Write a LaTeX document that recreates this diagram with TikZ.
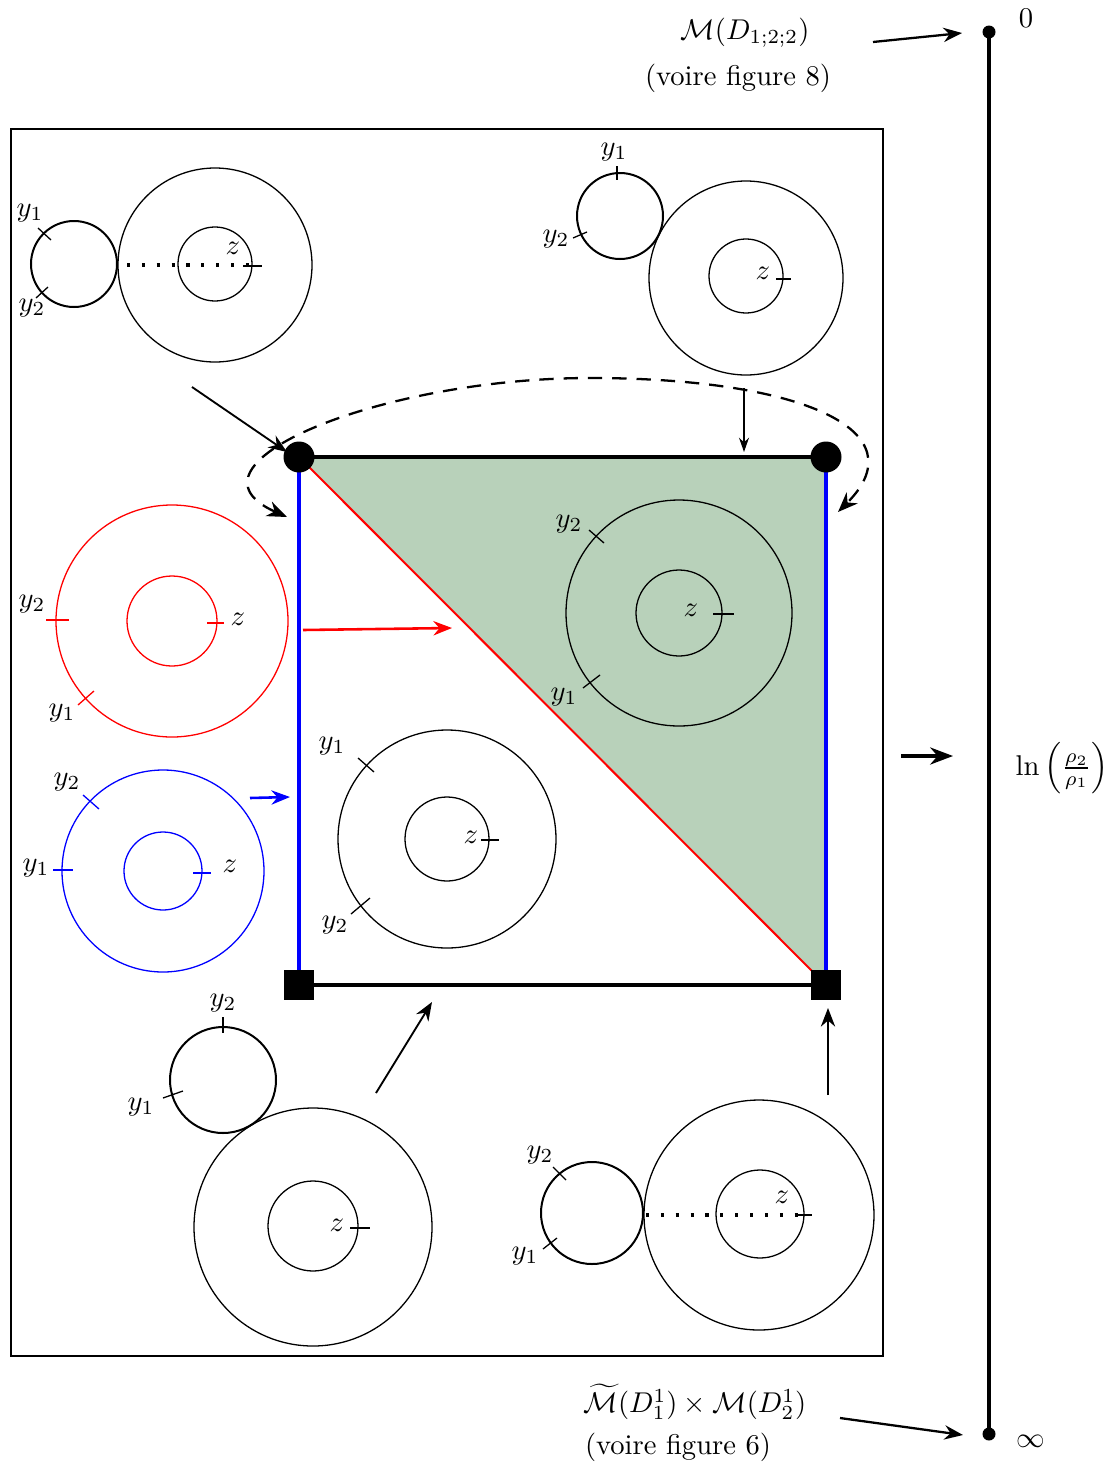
\documentclass[tikz,border=0pt]{standalone}
\usetikzlibrary{arrows.meta}
\definecolor{grn}{RGB}{184,209,186}
\begin{document}
\begin{tikzpicture}[x=0.0123cm,y=-0.0123cm,
  thincirc/.style={line width=0.45pt},
  smallcirc/.style={line width=0.7pt},
  tickline/.style={line width=0.45pt},
  dotline/.style={line width=1.1pt, dash pattern=on 1.1pt off 4.1pt},
  arr/.style={-{Stealth[length=6.5pt,width=5pt]}, line width=0.65pt},
  lab/.style={inner sep=0pt}]
\useasboundingbox (0,0) rectangle (1115,1465);

% outer frame
\node[draw, line width=0.7pt, minimum width=872*0.0123cm, minimum height=1227*0.0123cm, inner sep=0pt, anchor=north west] (frame) at (10,128) {};

% ---------- right scale ----------
\coordinate (top0) at (989,32);
\coordinate (botinf) at (989,1434);
\draw[line width=1.1pt] (top0) -- (botinf);
\fill (top0) circle (6.5);
\fill (botinf) circle (6.5);
\node[lab] (zero) at (1026,18) {$0$};
\node[lab] (infty) at (1031,1441) {$\infty$};
\node[lab] (topM) at (745,33) {$\mathcal{M}(D_{1;2;2})$};
\node[lab] (topV) at (738,78) {(voire figure 8)};
\node[lab] (botM) at (695,1402) {$\widetilde{\mathcal{M}}(D^1_1)\times\mathcal{M}(D^1_2)$};
\node[lab] (botV) at (678,1447) {(voire figure 6)};
\coordinate (a1s) at (873,42); \coordinate (a1e) at (962,33);
\coordinate (a2s) at (840,1418); \coordinate (a2e) at (963,1435);
\draw[arr, line width=0.8pt] (a1s) -- (a1e);
\draw[arr, line width=0.8pt] (a2s) -- (a2e);
\coordinate (a3s) at (901,756); \coordinate (a3e) at (953,756);
\draw[-{Stealth[length=8pt,width=6pt]}, line width=1.1pt] (a3s) -- (a3e);
\node[lab] (lnlab) at (1062,768) {$\ln\left(\frac{\rho_2}{\rho_1}\right)$};

% ---------- square ----------
\coordinate (TL) at (299,457);
\coordinate (TR) at (826,457);
\coordinate (BL) at (299,985);
\coordinate (BR) at (826,985);
\fill[grn] (TL) -- (TR) -- (BR) -- cycle;
\draw[red, line width=0.7pt] (TL) -- (BR);
\draw[blue, line width=1.1pt] (TL) -- (BL);
\draw[blue, line width=1.1pt] (TR) -- (BR);
\draw[line width=1.1pt] (TL) -- (TR);
\draw[line width=1.1pt] (BL) -- (BR);
\fill (TL) circle (15.5);
\fill (TR) circle (15.5);
\fill (284,970) rectangle (314,1000);
\fill (811,970) rectangle (841,1000);

% dashed curve
\coordinate (dL) at (287,517);
\coordinate (dR) at (838,512);
\draw[line width=0.8pt, dash pattern=on 5pt off 3.5pt, {Stealth[length=7pt,width=5.5pt]}-{Stealth[length=7pt,width=5.5pt]}]
  (dL) .. controls (170,465) and (380,378) .. (590,378) .. controls (800,378) and (920,430) .. (dR);

% ---------- arrows from snapshots ----------
\coordinate (s1) at (192,387); \coordinate (e1) at (287,452);
\draw[arr] (s1) -- (e1);
\coordinate (s2) at (744,388); \coordinate (e2) at (744,452);
\draw[-{Stealth[length=5pt,width=3.5pt]}, line width=0.45pt] (s2) -- (e2);
\coordinate (s3) at (303,630); \coordinate (e3) at (452,628);
\draw[arr, red, line width=0.9pt] (s3) -- (e3);
\coordinate (s4) at (250,798); \coordinate (e4) at (290,797);
\draw[arr, blue, line width=0.9pt] (s4) -- (e4);
\coordinate (s5) at (376,1093); \coordinate (e5) at (432,1002);
\draw[arr] (s5) -- (e5);
\coordinate (s6) at (828,1095); \coordinate (e6) at (828,1008);
\draw[arr] (s6) -- (e6);

% ---------- snapshot 1 (top-left) ----------
\draw[smallcirc] (74,264) circle (43);
\draw[thincirc] (215,265) circle (97);
\draw[thincirc] (215,264) circle (37);
\draw[dotline] (127,265) -- (258,265);
\draw[tickline] (38,228) -- (51,240);
\draw[tickline] (36,298) -- (48,287);
\draw[tickline] (243,266) -- (262,266);
\node[lab] (t1y1) at (30,213) {$y_1$};
\node[lab] (t1y2) at (32,308) {$y_2$};
\node[lab] (t1z) at (233,248) {$z$};

% ---------- snapshot 2 (top-right) ----------
\draw[smallcirc] (620,216) circle (43);
\draw[thincirc] (746,278) circle (97);
\draw[thincirc] (746,276) circle (37);
\draw[tickline] (617,166) -- (617,180);
\draw[tickline] (573,238) -- (587,232);
\draw[tickline] (776,279) -- (791,279);
\node[lab] (t2y1) at (614,152) {$y_1$};
\node[lab] (t2y2) at (556,239) {$y_2$};
\node[lab] (t2z) at (763,273) {$z$};

% ---------- red annulus ----------
\begin{scope}[red]
\draw[thincirc] (172,621) circle (116);
\draw[thincirc] (172,621) circle (45);
\draw[tickline] (46,620) -- (69,620);
\draw[tickline] (78,705) -- (94,691);
\draw[tickline] (207,623) -- (224,623);
\end{scope}
\node[lab] (ry2) at (32,604) {$y_2$};
\node[lab] (ry1) at (62,713) {$y_1$};
\node[lab] (rz) at (238,619) {$z$};

% ---------- blue annulus ----------
\begin{scope}[blue]
\draw[thincirc] (163,871) circle (101);
\draw[thincirc] (163,871) circle (39);
\draw[tickline] (83,795) -- (99,809);
\draw[tickline] (53,870) -- (73,870);
\draw[tickline] (193,873) -- (211,873);
\end{scope}
\node[lab] (by2) at (67,782) {$y_2$};
\node[lab] (by1) at (36,868) {$y_1$};
\node[lab] (bz) at (230,866) {$z$};

% ---------- green-region annulus ----------
\draw[thincirc] (679,613) circle (113);
\draw[thincirc] (679,613) circle (43);
\draw[tickline] (589,530) -- (604,543);
\draw[tickline] (583,688) -- (600,675);
\draw[tickline] (713,614) -- (734,614);
\node[lab] (gy2) at (569,524) {$y_2$};
\node[lab] (gy1) at (564,697) {$y_1$};
\node[lab] (gz) at (691,610) {$z$};

% ---------- white-region annulus ----------
\draw[thincirc] (447,839) circle (109);
\draw[thincirc] (447,839) circle (42);
\draw[tickline] (358,758) -- (374,772);
\draw[tickline] (351,914) -- (370,898);
\draw[tickline] (481,840) -- (499,840);
\node[lab] (wy1) at (332,746) {$y_1$};
\node[lab] (wy2) at (335,925) {$y_2$};
\node[lab] (wz) at (471,837) {$z$};

% ---------- snapshot 7 (bottom-left) ----------
\draw[smallcirc] (223,1080) circle (53);
\draw[thincirc] (313,1227) circle (119);
\draw[thincirc] (313,1226) circle (45);
\draw[tickline] (223,1017) -- (223,1033);
\draw[tickline] (163,1098) -- (183,1091);
\draw[tickline] (350,1228) -- (370,1228);
\node[lab] (l7y2) at (223,1003) {$y_2$};
\node[lab] (l7y1) at (141,1107) {$y_1$};
\node[lab] (l7z) at (337,1225) {$z$};

% ---------- snapshot 8 (bottom-right) ----------
\draw[smallcirc] (592,1213) circle (51);
\draw[thincirc] (759,1215) circle (115);
\draw[thincirc] (760,1214) circle (44);
\draw[dotline] (646,1215) -- (805,1215);
\draw[tickline] (553,1167) -- (566,1180);
\draw[tickline] (543,1249) -- (557,1238);
\draw[tickline] (795,1215) -- (812,1215);
\node[lab] (l8y2) at (540,1155) {$y_2$};
\node[lab] (l8y1) at (525,1256) {$y_1$};
\node[lab] (l8z) at (782,1197) {$z$};
\end{tikzpicture}
\end{document}
